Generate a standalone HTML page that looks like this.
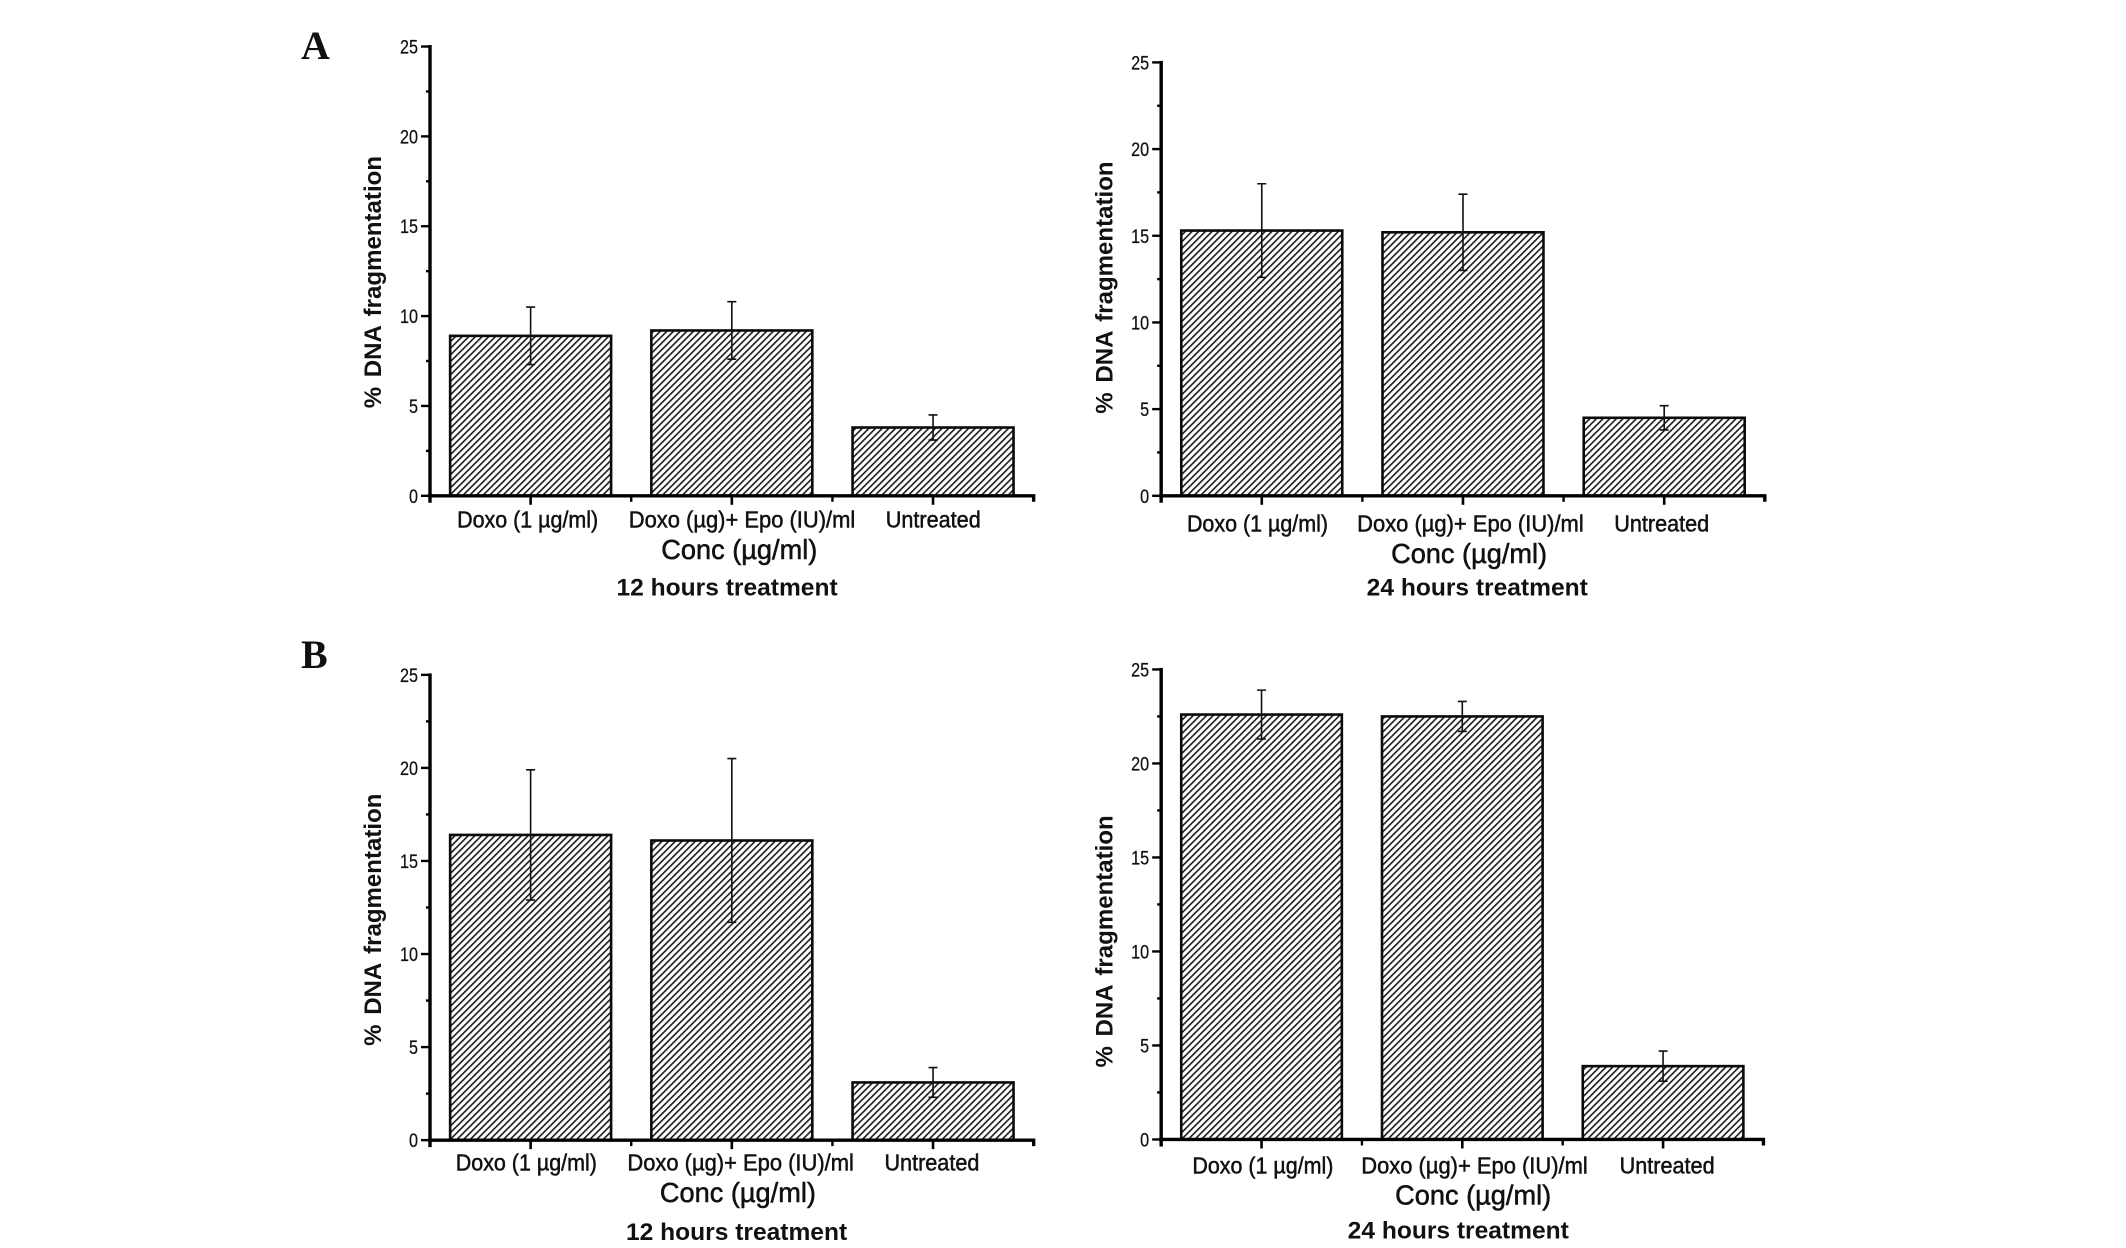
<!DOCTYPE html>
<html lang="en">
<head>
<meta charset="utf-8">
<title>DNA fragmentation bar charts</title>
<style>
html,body{margin:0;padding:0;background:#fff;}
svg{display:block;}
text{font-family:"Liberation Sans",sans-serif;fill:#111;}
</style>
</head>
<body>
<svg id="figure" width="2126" height="1248" viewBox="0 0 2126 1248" xmlns="http://www.w3.org/2000/svg">
<defs>
<pattern id="hatch" patternUnits="userSpaceOnUse" width="4.7" height="4.7" patternTransform="rotate(-45)">
<rect x="0" y="0" width="4.7" height="1.6" fill="#1a1a1a"></rect>
</pattern>
</defs>
<rect width="2126" height="1248" fill="#fff"></rect>
<text x="301" y="59" style="font-family:'Liberation Serif',serif;font-weight:bold;font-size:40px">A</text>
<text x="301" y="668" style="font-family:'Liberation Serif',serif;font-weight:bold;font-size:40px">B</text>
</svg>
<script>
const categories = ["Doxo (1 µg/ml)", "Doxo (µg)+ Epo (IU)/ml", "Untreated"];
const yTickLabels = [0, 5, 10, 15, 20, 25];
const yMinorTicks = [2.5, 7.5, 12.5, 17.5, 22.5];

const a12Values = [8.9, 9.2, 3.8];
const a12Upper = [10.5, 10.8, 4.5];
const a12Lower = [7.3, 7.6, 3.1];

const a24Values = [15.3, 15.2, 4.5];
const a24Upper = [18.0, 17.4, 5.2];
const a24Lower = [12.6, 13.0, 3.8];

const b12Values = [16.4, 16.1, 3.1];
const b12Upper = [19.9, 20.5, 3.9];
const b12Lower = [12.9, 11.7, 2.3];

const b24Values = [22.6, 22.5, 3.9];
const b24Upper = [23.9, 23.3, 4.7];
const b24Lower = [21.3, 21.7, 3.1];

const NS = "http://www.w3.org/2000/svg";
const S = 1.3565;
const svg = document.getElementById("figure");
const catWidths = [104, 167, 70];

function make(tag, attrs, parent) {
  const el = document.createElementNS(NS, tag);
  for (const k in attrs) el.setAttribute(k, attrs[k]);
  parent.appendChild(el);
  return el;
}

function drawPanel(id, layout, values, upper, lower, title) {
  const g = make("g", {}, svg);
  
  
  g.setAttribute('id', id);
  const left = layout.axisX * S, right = layout.end * S;
  const y0 = layout.y0 * S, yTop = layout.y25 * S;
  const yScale = v => y0 - (v / 25) * (y0 - yTop);
  const band = (right - left) / categories.length;
  const xScale = i => left + (i + 0.5) * band;
  const barW = band * 0.8;

  values.forEach((v, i) => {
    const bar = make("rect", {x: xScale(i) - barW / 2, y: yScale(v), width: barW, height: y0 - yScale(v), fill: "url(#hatch)", stroke: "#0a0a0a", "stroke-width": 2.6}, g);
    
    
    const x = xScale(i), capW = 4.5;
    const err = make("path", {d: `M${x} ${yScale(upper[i])}V${yScale(lower[i])}M${x - capW} ${yScale(upper[i])}H${x + capW}M${x - capW} ${yScale(lower[i])}H${x + capW}`, fill: "none", stroke: "#111", "stroke-width": 1.6}, g);
    
    
  });

  const axes = make("path", {d: `M${left} ${yTop - 1.5}V${y0 + 7}M${left - 2} ${y0}H${right}V${y0 + 6}`, fill: "none", stroke: "#000", "stroke-width": 3.4}, g);
  
  

  yTickLabels.forEach(v => {
    const t = make("line", {x1: left - 9, x2: left, y1: yScale(v), y2: yScale(v), stroke: "#000", "stroke-width": 2.4}, g);
    
    
    const lab = make("text", {x: left - 12, y: yScale(v) + 7, "text-anchor": "end", "font-size": 19, stroke: "#111", "stroke-width": 0.25, textLength: String(v).length * 9, lengthAdjust: "spacingAndGlyphs"}, g);
    
    
    lab.textContent = v;
  });
  yMinorTicks.forEach(v => {
    const t = make("line", {x1: left - 4, x2: left, y1: yScale(v), y2: yScale(v), stroke: "#000", "stroke-width": 2.4}, g);
    
    
  });

  categories.forEach((c, i) => {
    const t = make("line", {x1: xScale(i), x2: xScale(i), y1: y0, y2: y0 + 9, stroke: "#000", "stroke-width": 2.6}, g);
    
    
    if (i > 0) {
      const m = make("line", {x1: left + i * band, x2: left + i * band, y1: y0, y2: y0 + 6, stroke: "#000", "stroke-width": 2.4}, g);
      
      
    }
    const lab = make("text", {x: layout.catX[i] * S, y: layout.catY * S, "text-anchor": "middle", "font-size": 23, "stroke": "#111", "stroke-width": 0.5, textLength: catWidths[i] * S, lengthAdjust: "spacingAndGlyphs"}, g);
    
    
    lab.textContent = c;
  });

  const xt = make("text", {x: layout.concX * S, y: layout.concY * S, "text-anchor": "middle", "font-size": 28, "stroke": "#111", "stroke-width": 0.55, textLength: 115 * S, lengthAdjust: "spacingAndGlyphs"}, g);
  
  
  xt.textContent = "Conc (µg/ml)";

  const tt = make("text", {x: layout.titleX * S, y: layout.titleY * S, "text-anchor": "middle", "font-size": 24.5, "font-weight": "bold", textLength: 163 * S, lengthAdjust: "spacingAndGlyphs"}, g);
  
  
  tt.textContent = title;

  const yx = layout.yTitleX * S, yy = layout.yTitleY * S;
  const yt = make("text", {x: 0, y: 0, transform: `translate(${yx} ${yy}) rotate(-90)`, "text-anchor": "middle", "font-size": 24, "font-weight": "bold", "word-spacing": 3, textLength: 186 * S, lengthAdjust: "spacing"}, g);
  
  
  yt.textContent = "% DNA fragmentation";
}

drawPanel("panel-a-12h",
  {axisX: 317, end: 762, y0: 365.5, y25: 34.3, catX: [389, 547, 688], catY: 389, concX: 545, concY: 412, titleX: 536, titleY: 439, yTitleX: 281, yTitleY: 208},
  a12Values, a12Upper, a12Lower, "12 hours treatment");
drawPanel("panel-a-24h",
  {axisX: 856, end: 1301, y0: 365.5, y25: 46, catX: [927, 1084, 1225], catY: 392, concX: 1083, concY: 415, titleX: 1089, titleY: 439, yTitleX: 820, yTitleY: 212},
  a24Values, a24Upper, a24Lower, "24 hours treatment");
drawPanel("panel-b-12h",
  {axisX: 317, end: 762, y0: 840.5, y25: 497.5, catX: [388, 546, 687], catY: 863, concX: 544, concY: 886, titleX: 543, titleY: 914, yTitleX: 281, yTitleY: 678},
  b12Values, b12Upper, b12Lower, "12 hours treatment");
drawPanel("panel-b-24h",
  {axisX: 856, end: 1300, y0: 840, y25: 493.5, catX: [931, 1087, 1229], catY: 865, concX: 1086, concY: 888, titleX: 1075, titleY: 913, yTitleX: 820, yTitleY: 694},
  b24Values, b24Upper, b24Lower, "24 hours treatment");
</script>
</body>
</html>
